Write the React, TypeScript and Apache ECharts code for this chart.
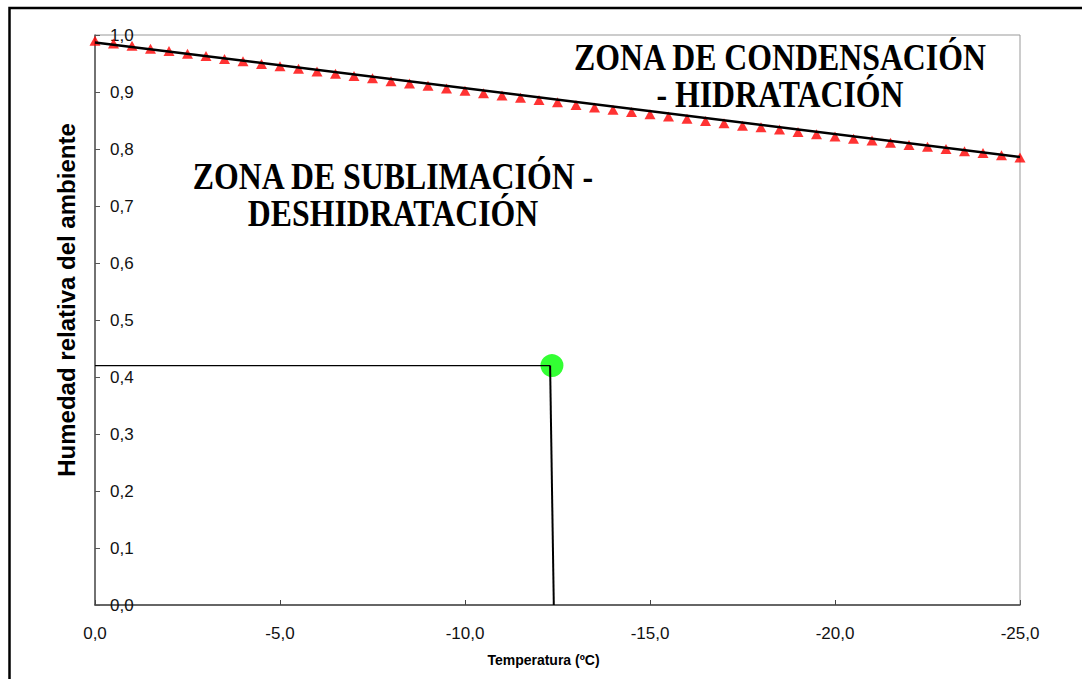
import React, { useEffect, useRef } from "react";
import * as echarts from "echarts";

const temperatures = [
  0, -0.5, -1, -1.5, -2, -2.5, -3, -3.5, -4, -4.5, -5, -5.5, -6, -6.5, -7, -7.5, -8, -8.5, -9, -9.5,
  -10, -10.5, -11, -11.5, -12, -12.5, -13, -13.5, -14, -14.5, -15, -15.5, -16, -16.5, -17, -17.5,
  -18, -18.5, -19, -19.5, -20, -20.5, -21, -21.5, -22, -22.5, -23, -23.5, -24, -24.5, -25,
];
const humidityRatio = [
  0.99, 0.985, 0.981, 0.976, 0.972, 0.967, 0.963, 0.958, 0.954, 0.949, 0.945, 0.941, 0.936, 0.932,
  0.928, 0.924, 0.919, 0.915, 0.911, 0.906, 0.902, 0.898, 0.894, 0.89, 0.886, 0.882, 0.877, 0.873,
  0.869, 0.865, 0.861, 0.857, 0.853, 0.849, 0.845, 0.841, 0.838, 0.834, 0.83, 0.826, 0.822, 0.818,
  0.815, 0.811, 0.807, 0.804, 0.8, 0.796, 0.793, 0.789, 0.785,
];
const trendLine = [
  [0, 0.987],
  [-25, 0.786],
];
const operatingPoint = [[-12.35, 0.42]];
const horizontalGuide = [
  [0, 0.42],
  [-12.3, 0.42],
];
const verticalGuide = [
  [-12.3, 0.42],
  [-12.4, 0],
];
const zoneCondensation = "ZONA DE CONDENSACIÓN\n- HIDRATACIÓN";
const zoneSublimation = "ZONA DE SUBLIMACIÓN -\nDESHIDRATACIÓN";
const xAxisTitle = "Temperatura (ºC)";
const yAxisTitle = "Humedad relativa del ambiente";

const fmt = (v: number) => v.toFixed(1).replace(".", ",");

export default function App() {
  const ref = useRef<HTMLDivElement>(null);
  useEffect(() => {
    if (!ref.current) return;
    const chart = echarts.init(ref.current, null, { renderer: "svg" });
    const sans = "Liberation Sans, Arial, sans-serif";
    const serif = "Liberation Serif, Times New Roman, serif";
    chart.setOption({
      animation: false,
      backgroundColor: "#ffffff",
      grid: {
        left: 95,
        right: 62,
        top: 35,
        bottom: 74,
        show: true,
        borderColor: "#999999",
        borderWidth: 1,
        backgroundColor: "transparent",
      },
      xAxis: {
        type: "value",
        min: -25,
        max: 0,
        interval: 5,
        inverse: true,
        name: xAxisTitle,
        nameLocation: "middle",
        nameGap: 48,
        nameTextStyle: {
          fontFamily: sans,
          fontSize: 14,
          fontWeight: "bold",
          color: "#000",
          padding: [0, 28, 0, 0],
        },
        axisLine: { show: true, onZero: false, lineStyle: { color: "#444", width: 1.5 } },
        axisTick: { show: true, inside: true, length: 5, lineStyle: { color: "#444" } },
        axisLabel: { formatter: fmt, fontFamily: sans, fontSize: 17, color: "#111", margin: 20 },
        splitLine: { show: false },
      },
      yAxis: {
        type: "value",
        min: 0,
        max: 1,
        interval: 0.1,
        name: yAxisTitle,
        nameLocation: "middle",
        nameGap: 17,
        nameTextStyle: {
          fontFamily: sans,
          fontSize: 24,
          fontWeight: "bold",
          color: "#000",
          padding: [0, 0, 0, 40],
        },
        axisLine: { show: true, onZero: false, lineStyle: { color: "#555", width: 1.5 } },
        axisTick: { show: true, inside: true, length: 5, lineStyle: { color: "#555" } },
        axisLabel: {
          inside: true,
          formatter: fmt,
          fontFamily: sans,
          fontSize: 17,
          color: "#111",
          margin: 15,
        },
        splitLine: { show: false },
      },
      series: [
        {
          name: "Punto",
          type: "scatter",
          data: operatingPoint,
          symbol: "circle",
          symbolSize: 23,
          itemStyle: { color: "#00ff00" },
          clip: false,
          z: 2,
        },
        {
          name: "Relación",
          type: "scatter",
          data: temperatures.map((t, i) => [t, humidityRatio[i]]),
          symbol: "triangle",
          symbolSize: [11, 10],
          itemStyle: { color: "#ff0000" },
          clip: false,
          z: 3,
        },
        {
          name: "Tendencia",
          type: "line",
          data: trendLine,
          showSymbol: false,
          lineStyle: { color: "#000", width: 2.5 },
          clip: false,
          z: 4,
        },
        {
          name: "Guía horizontal",
          type: "line",
          data: horizontalGuide,
          showSymbol: false,
          lineStyle: { color: "#000", width: 1.2 },
          clip: false,
          z: 5,
        },
        {
          name: "Guía vertical",
          type: "line",
          data: verticalGuide,
          showSymbol: false,
          lineStyle: { color: "#000", width: 2 },
          clip: false,
          z: 5,
        },
      ],
      graphic: [
        {
          type: "rect",
          shape: { x: 9.5, y: 8, width: 1080, height: 680 },
          style: { fill: "none", stroke: "#000", lineWidth: 2.5 },
          silent: true,
        },
        {
          type: "text",
          x: 780,
          y: 76,
          scaleX: 0.86,
          style: {
            text: zoneCondensation,
            font: `bold 37px ${serif}`,
            fill: "#000",
            align: "center",
            verticalAlign: "middle",
            lineHeight: 37,
          },
        },
        {
          type: "text",
          x: 393,
          y: 195,
          scaleX: 0.86,
          style: {
            text: zoneSublimation,
            font: `bold 37px ${serif}`,
            fill: "#000",
            align: "center",
            verticalAlign: "middle",
            lineHeight: 37,
          },
        },
      ],
    });
    return () => chart.dispose();
  }, []);
  return (
    <div
      ref={ref}
      style={{ position: "fixed", left: 0, top: 0, width: 1082, height: 679, background: "#fff" }}
    />
  );
}
